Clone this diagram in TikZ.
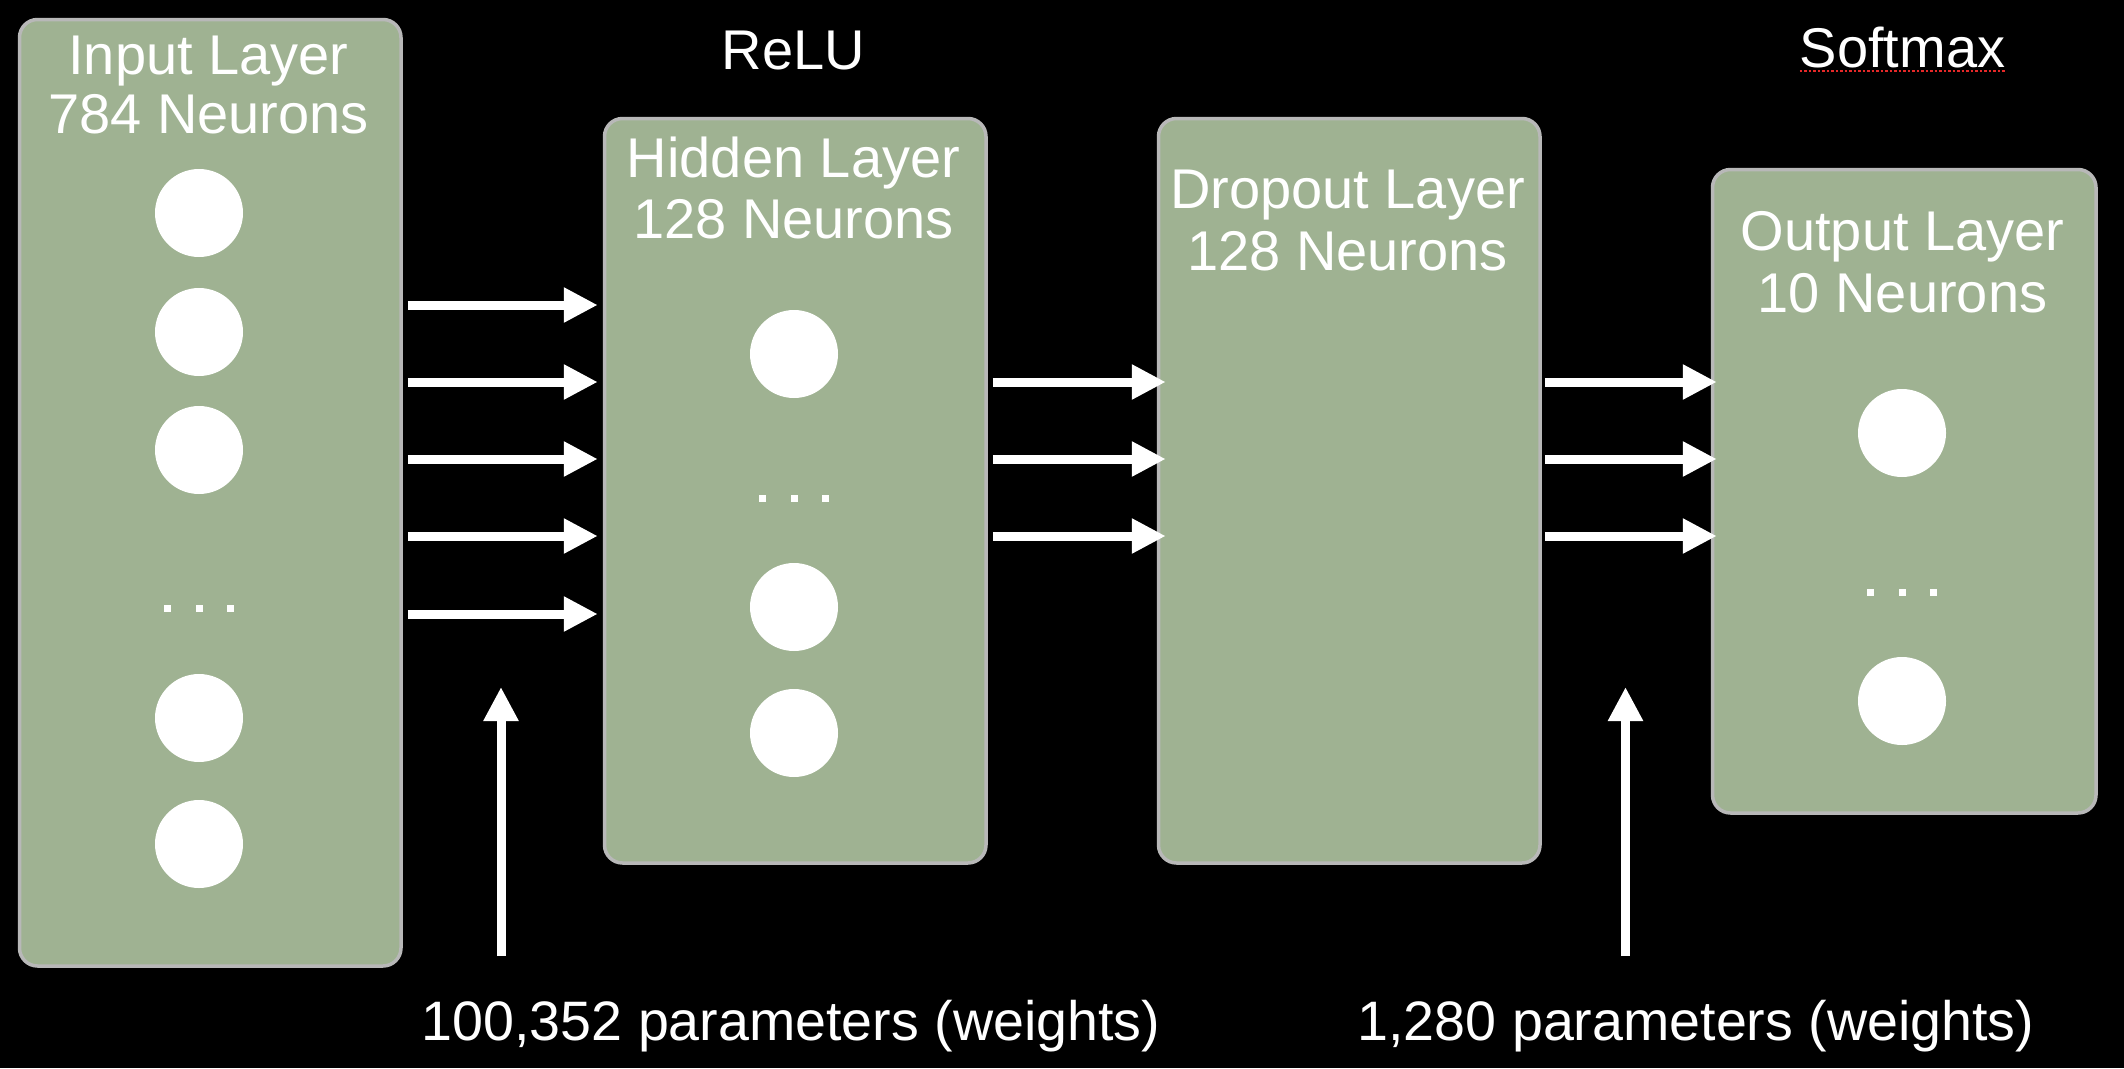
\documentclass[tikz,border=0pt]{standalone}
\usepackage{fontspec}
\setmainfont{Liberation Sans}
\usetikzlibrary{arrows.meta}
\definecolor{boxgreen}{RGB}{159,178,146}
\definecolor{boxgray}{RGB}{184,184,184}
\definecolor{squig}{RGB}{230,40,40}
\begin{document}
\begin{tikzpicture}[x=1pt,y=-1pt,
 layer/.style={draw=boxgray, line width=3.5pt, fill=boxgreen, rounded corners=18pt, rectangle, inner sep=0pt, anchor=north west},
 neuron/.style={circle, fill=white, minimum size=88pt, inner sep=0pt},
 dotsq/.style={rectangle, fill=white, minimum size=7pt, inner sep=0pt},
 title/.style={text=white, font=\fontsize{56}{60}\selectfont, anchor=base, inner sep=0pt},
 plabel/.style={text=white, font=\fontsize{55.6}{60}\selectfont, anchor=base, inner sep=0pt},
 arr/.style={draw=white, line width=9pt, -{Triangle[length=34pt,width=33pt]}},
]
\useasboundingbox (0,0) rectangle (2124,1068);
\fill[black] (0,0) rectangle (2124,1068);

% layer boxes
\node[layer, minimum width=381.5pt, minimum height=946.5pt] (inp) at (17.75,17.75) {};
\node[layer, minimum width=381.5pt, minimum height=744.5pt] (hid) at (602.75,116.75) {};
\node[layer, minimum width=381.5pt, minimum height=744.5pt] (drop) at (1156.75,116.75) {};
\node[layer, minimum width=383.5pt, minimum height=643.5pt] (out) at (1710.75,167.75) {};

% titles
\node[title] (inpT1) at (208.5,74) {Input Layer};
\node[title] (inpT2) at (208.5,133) {784 Neurons};
\node[title] (hidT1) at (793.5,177) {Hidden Layer};
\node[title] (hidT2) at (793.5,238) {128 Neurons};
\node[title] (dropT1) at (1347.5,208) {Dropout Layer};
\node[title] (dropT2) at (1347.5,270) {128 Neurons};
\node[title] (outT1) at (1902.5,250) {Output Layer};
\node[title] (outT2) at (1902.5,312) {10 Neurons};
\node[title] (relu) at (793.5,69) {ReLU};
\node[title] (sm) at (1902.5,67) {Softmax};
\draw[squig, line width=2.5pt, dash pattern=on 2.5pt off 2pt] ([yshift=-4pt]sm.base west) -- ([yshift=-4pt]sm.base east);

% neurons
\node[neuron] (i1) at (199,213) {};
\node[neuron] (i2) at (199,332) {};
\node[neuron] (i3) at (199,450) {};
\node[neuron] (i4) at (199,718) {};
\node[neuron] (i5) at (199,844) {};
\foreach \k/\dx in {a/-31.5,b/0,c/31.5}{
  \node[dotsq] (idot\k) at (199+\dx,608) {};
}
\node[neuron] (h1) at (794,354) {};
\node[neuron] (h2) at (794,607) {};
\node[neuron] (h3) at (794,733) {};
\foreach \k/\dx in {a/-31.5,b/0,c/31.5}{
  \node[dotsq] (hdot\k) at (794+\dx,498) {};
}
\node[neuron] (o1) at (1902,433) {};
\node[neuron] (o2) at (1902,701) {};
\foreach \k/\dx in {a/-31.5,b/0,c/31.5}{
  \node[dotsq] (odot\k) at (1902+\dx,592) {};
}

% connectors
\foreach \yy in {305,382,459,536,614}{
  \draw[arr, shorten <=5pt, shorten >=5pt] (inp.east |- 0,\yy) -- (hid.west |- 0,\yy);
}
\foreach \yy in {382,459,536}{
  \draw[arr, shorten <=5pt, shorten >=-9pt] (hid.east |- 0,\yy) -- (drop.west |- 0,\yy);
  \draw[arr, shorten <=3pt, shorten >=-6pt] (drop.east |- 0,\yy) -- (out.west |- 0,\yy);
}

% parameter labels and their arrows
\node[plabel] (lab1) at (791,1040) {100,352 parameters (weights)};
\node[plabel] (lab2) at (1696,1040) {1,280 parameters (weights)};
\coordinate (v1s) at (501,956);
\coordinate (v1e) at (501,687);
\coordinate (v2s) at (1625.5,956);
\coordinate (v2e) at (1625.5,687);
\draw[arr] (v1s) -- (v1e);
\draw[arr] (v2s) -- (v2e);
\end{tikzpicture}
\end{document}
